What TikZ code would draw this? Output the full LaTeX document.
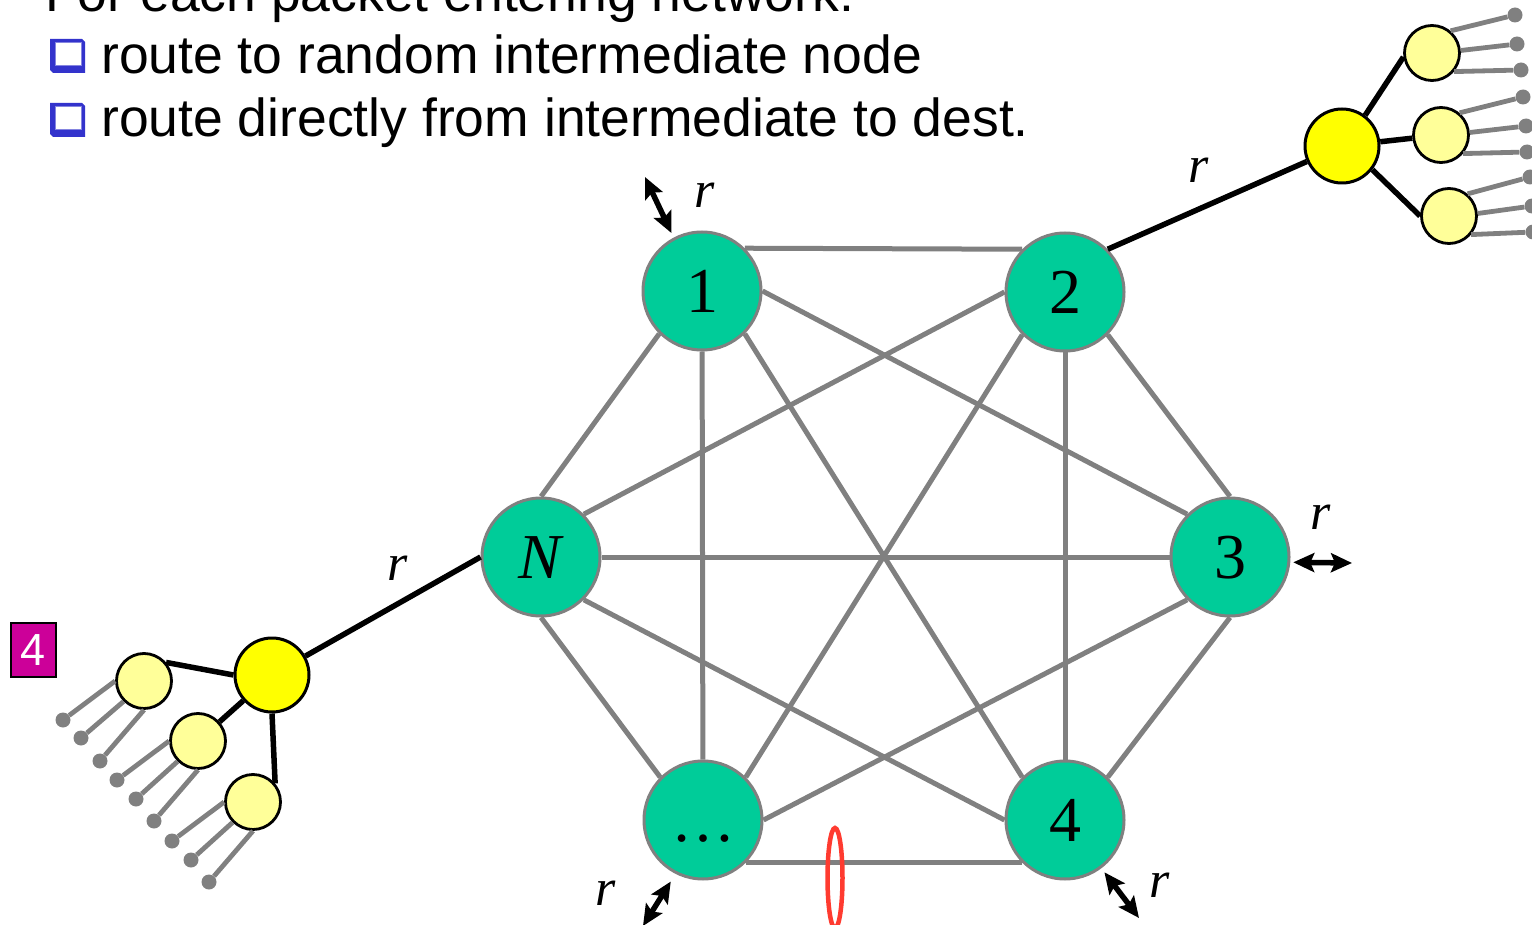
\documentclass[tikz,border=0pt]{standalone}
\usepackage{fontspec}
\setmainfont{Liberation Serif}
\newfontfamily\sansfont{Liberation Sans}
\usetikzlibrary{shapes.geometric, arrows.meta, calc, backgrounds}
\definecolor{cNode}{HTML}{00CC99}
\definecolor{cEdge}{HTML}{808080}
\definecolor{cHub}{HTML}{FFFF00}
\definecolor{cHost}{HTML}{FFFF99}
\definecolor{cBullet}{HTML}{3333CC}
\definecolor{cMark}{HTML}{CC0099}
\definecolor{cCut}{HTML}{FF3B30}
\tikzset{
  router/.style={
    circle, draw=cEdge, fill=cNode, line width=3pt,
    minimum size=118pt, inner sep=0pt,
    font=\fontsize{64}{64}\selectfont, text height=43pt, text depth=0pt,
  },
  hub/.style={
    circle, draw=black, fill=cHub, line width=3pt,
    minimum size=74pt, inner sep=0pt,
  },
  host/.style={
    circle, draw=black, fill=cHost, line width=2.8pt,
    minimum size=55pt, inner sep=0pt,
  },
  leaf/.style={circle, fill=cEdge, minimum size=15pt, inner sep=0pt},
  mesh/.style={draw=cEdge, line width=5pt},
  uplink/.style={draw=black, line width=5.5pt},
  drop/.style={draw=cEdge, line width=4.8pt},
  io/.style={{Stealth[length=21pt, width=19pt, inset=4pt]}-{Stealth[length=21pt, width=19pt, inset=4pt]},
    line width=5.5pt},
  rlabel/.style={font=\fontsize{52}{52}\selectfont\itshape, inner sep=0pt},
  headline/.style={font=\sansfont\fontsize{53.5}{53.5}\selectfont, inner sep=0pt, anchor=base west},
}

\begin{document}
\begin{tikzpicture}[x=1pt, y=-1pt]
  \useasboundingbox (0,0) rectangle (1532,925);

  % Bullet text
  \node[headline] (intro) at (45,12) {For each packet entering network:};
  \node[headline] (step1) at (101,74) {route to random intermediate node};
  \node[headline] (step2) at (101,137) {route directly from intermediate to dest.};
  \foreach \dy in {0,64} {
    \fill[cBullet] (50,39+\dy) -- (82,39+\dy) -- (85,42+\dy) -- (85,73+\dy) -- (53,73+\dy) -- (50,70+\dy) -- cycle;
    \filldraw[fill=white, draw=cBullet!60, line width=1pt] (55,43+\dy) rectangle (81,66+\dy);
  }

  % Full mesh of intermediate nodes
  \node[router] (n1) at (702,291) {1};
  \node[router] (n2) at (1065,292) {2};
  \node[router] (n3) at (1230,557) {3};
  \node[router] (n4) at (1065,820) {4};
  \node[router] (nd) at (703,820) {\dots};
  \node[router] (nN) at (541,557) {\textit{N}};

  \begin{scope}[on background layer]
    \draw[mesh] (n1.north east) -- (n2.north west);
    \draw[mesh] (n1.south west) -- (nN.north);
    \draw[mesh] (n1) -- (nd);
    \draw[mesh] (n1.east) -- (n3.north west);
    \draw[mesh] (n1.south east) -- (n4.north west);
    \draw[mesh] (n2.west) -- (nN.north east);
    \draw[mesh] (n2.south west) -- (nd.north east);
    \draw[mesh] (n2) -- (n4);
    \draw[mesh] (n2.south east) -- (n3.north);
    \draw[mesh] (nN) -- (n3);
    \draw[mesh] (nN.south east) -- (n4.west);
    \draw[mesh] (nN.south) -- (nd.north west);
    \draw[mesh] (nd.east) -- (n3.south west);
    \draw[mesh] (nd.south east) -- (n4.south west);
    \draw[mesh] (n3.south) -- (n4.north east);
  \end{scope}

  % Access trees
  \node[hub] (hubL) at (272,675) {};
  \node[host] (hL1) at (144,681) {};
  \node[host] (hL2) at (198,741) {};
  \node[host] (hL3) at (253,802) {};
  \node[hub] (hubR) at (1342,146) {};
  \node[host] (hR1) at (1432,53) {};
  \node[host] (hR2) at (1441,135) {};
  \node[host] (hR3) at (1449,216) {};

  \draw[uplink] (nN.west) -- (hubL);
  \draw[uplink] (hubL.west) -- (hL1.40);
  \draw[uplink] (hubL) -- (hL2);
  \draw[uplink] (hubL.south) -- (hL3.40);
  \draw[uplink] (n2.north east) -- (hubR);
  \draw[uplink] (hubR.53) -- (hR1.188);
  \draw[uplink] (hubR) -- (hR2);
  \draw[uplink] (hubR.-38) -- (hR3.west);

  \foreach \h/\a/\b/\c/\d/\e/\f in {hL1/63/720/81/738/100/761, hL2/117/780/136/799/154/821, hL3/172/841/191/860/209/882} {
    \node[leaf] (\h-a) at (\a,\b) {};
    \node[leaf] (\h-b) at (\c,\d) {};
    \node[leaf] (\h-c) at (\e,\f) {};
    \draw[drop] (\h.180) -- (\h-a);
    \draw[drop] (\h.225) -- (\h-b);
    \draw[drop] (\h.270) -- (\h-c);
  }
  \foreach \h/\a/\b/\c/\d/\e/\f in {hR1/1515/15/1517/44/1521/70, hR2/1523/97/1526/126/1527/152, hR3/1530/177/1532/206/1533/232} {
    \node[leaf] (\h-a) at (\a,\b) {};
    \node[leaf] (\h-b) at (\c,\d) {};
    \node[leaf] (\h-c) at (\e,\f) {};
    \draw[drop] (\h.50) -- (\h-a);
    \draw[drop] (\h.5) -- (\h-b);
    \draw[drop] (\h.-40) -- (\h-c);
  }

  % Rate labels and ports
  \node[rlabel] (r1) at (705,195) {r};
  \node[rlabel] (r3) at (1321,517) {r};
  \node[rlabel] (rd) at (606,893) {r};
  \node[rlabel] (r4) at (1160,885) {r};
  \node[rlabel] (rR) at (1199,170) {r};
  \node[rlabel] (rL) at (398,568) {r};

  \coordinate (t1) at (645,177);
  \coordinate (t3) at (1352,563);
  \coordinate (td) at (643,926);
  \coordinate (t4) at (1139,918);
  \draw[io, shorten >=5pt] (t1) -- (n1.118);
  \draw[io, shorten <=3pt] (n3.-5) -- (t3);
  \draw[io, shorten <=9pt] (nd.243) -- (td);
  \draw[io, shorten <=5pt] (n4.-53) -- (t4);

  % Cut marker
  \node[ellipse, draw=cCut, line width=4.5pt, minimum width=15pt, minimum height=100pt,
        inner sep=0pt] (cut) at (835,878) {};

  \node[draw=black, fill=cMark, line width=2pt, minimum width=45pt, minimum height=54pt,
        inner sep=0pt, text=white, font=\sansfont\fontsize{45}{45}\selectfont] (tag) at (33.5,650) {4};

\end{tikzpicture}
\end{document}
